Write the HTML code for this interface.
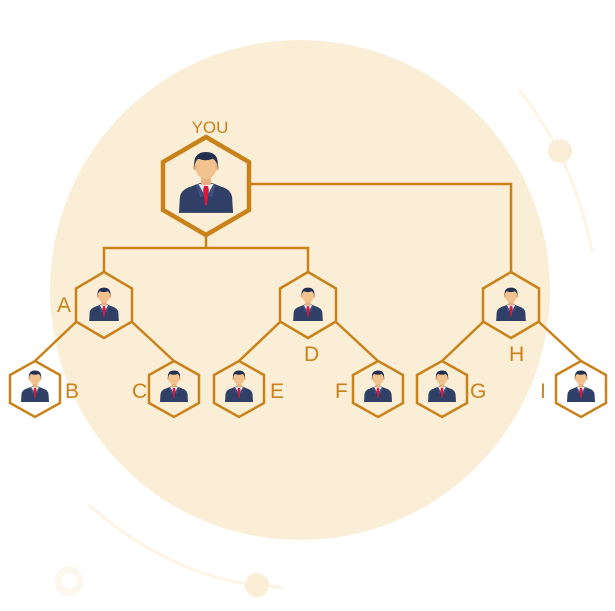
<!DOCTYPE html>
<html><head><meta charset="utf-8"><style>
html,body{margin:0;padding:0;background:#fff;}
svg{display:block;}
text{font-family:"Liberation Sans",sans-serif;fill:#c9821a;}
</style></head><body>
<svg width="615" height="611" viewBox="0 0 615 611" xmlns="http://www.w3.org/2000/svg">
<defs>
<symbol id="p" viewBox="0 0 60 66">
  <path d="M2 66 L3 50 Q4 42 14 39 L24 35 L36 35 L46 39 Q56 42 57 50 L58 66 Z" fill="#2f3f66"/>
  <path d="M22 36 L30 50 L38 36 Z" fill="#eef3f8"/>
  <rect x="25" y="28" width="10" height="9" fill="#e8b07e"/>
  <path d="M28 38 L32 38 L33 42 L31 58 L29 58 L27 42 Z" fill="#e0163a"/>
  <path d="M22 36 L28 48 L24 50 L20 38 Z M38 36 L32 48 L36 50 L40 38 Z" fill="#3e5080"/>
  <ellipse cx="30" cy="18" rx="11" ry="13" fill="#f2c28e"/>
  <ellipse cx="18.5" cy="19" rx="2" ry="3" fill="#e8b07e"/>
  <ellipse cx="41.5" cy="19" rx="2" ry="3" fill="#e8b07e"/>
  <path d="M18 19 Q16 3 30 3 Q44 3 42 19 Q41 12 37 10 Q30 13 22 10 Q19 12 18 19 Z" fill="#24304f"/>
</symbol>
</defs>
<circle cx="300" cy="290" r="250" fill="#fbeed6"/>
<path d="M519 90 Q575 160 592 252" fill="none" stroke="#fcf4e6" stroke-width="3"/>
<circle cx="560" cy="151" r="12" fill="#fbeed6"/>
<path d="M89 505 Q180 585 283 587" fill="none" stroke="#fcf4e6" stroke-width="3"/>
<circle cx="257" cy="585" r="12" fill="#fbeed6"/>
<circle cx="69" cy="581" r="11" fill="none" stroke="#fdf8ee" stroke-width="7"/>

<g fill="none" stroke="#c9821a" stroke-width="2.5">
  <path d="M206 235 V248 M104 272 V248 H308 V272 M249 184 H511 V272"/>
  <path d="M76 322 L35 361 M132 322 L174 361 M280 322 L239 361 M336 322 L378 361 M483 322 L442 361 M539 322 L581 361"/>
</g>
<g fill="none" stroke="#c9821a">
  <polygon stroke-width="4.5" points="206,137 249,162 249,210 206,235 163,210 163,162"/>
  <g stroke-width="2.5">
    <polygon points="104,272 132,288.5 132,321.5 104,338 76,321.5 76,288.5"/>
    <polygon points="308,272 336,288.5 336,321.5 308,338 280,321.5 280,288.5"/>
    <polygon points="511,272 539,288.5 539,321.5 511,338 483,321.5 483,288.5"/>
    <polygon points="35,361 60,375 60,403 35,417 10,403 10,375"/>
    <polygon points="174,361 199,375 199,403 174,417 149,403 149,375"/>
    <polygon points="239,361 264,375 264,403 239,417 214,403 214,375"/>
    <polygon points="378,361 403,375 403,403 378,417 353,403 353,375"/>
    <polygon points="442,361 467,375 467,403 442,417 417,403 417,375"/>
    <polygon points="581,361 606,375 606,403 581,417 556,403 556,375"/>
  </g>
</g>
<use href="#p" x="177" y="149" width="58" height="64"/>
<use href="#p" x="88" y="286" width="32" height="35"/>
<use href="#p" x="292" y="286" width="32" height="35"/>
<use href="#p" x="495" y="286" width="32" height="35"/>
<use href="#p" x="20" y="369" width="30" height="33"/>
<use href="#p" x="159" y="369" width="30" height="33"/>
<use href="#p" x="224" y="369" width="30" height="33"/>
<use href="#p" x="363" y="369" width="30" height="33"/>
<use href="#p" x="427" y="369" width="30" height="33"/>
<use href="#p" x="566" y="369" width="30" height="33"/>

<text x="210" y="133" font-size="17" text-anchor="middle">YOU</text>
<g font-size="21">
<text x="57" y="312">A</text>
<text x="65" y="398">B</text>
<text x="132" y="398">C</text>
<text x="304" y="361">D</text>
<text x="270" y="398">E</text>
<text x="335" y="398">F</text>
<text x="470" y="398">G</text>
<text x="509" y="361">H</text>
<text x="540" y="398">I</text>
</g>
</svg>
</body></html>
